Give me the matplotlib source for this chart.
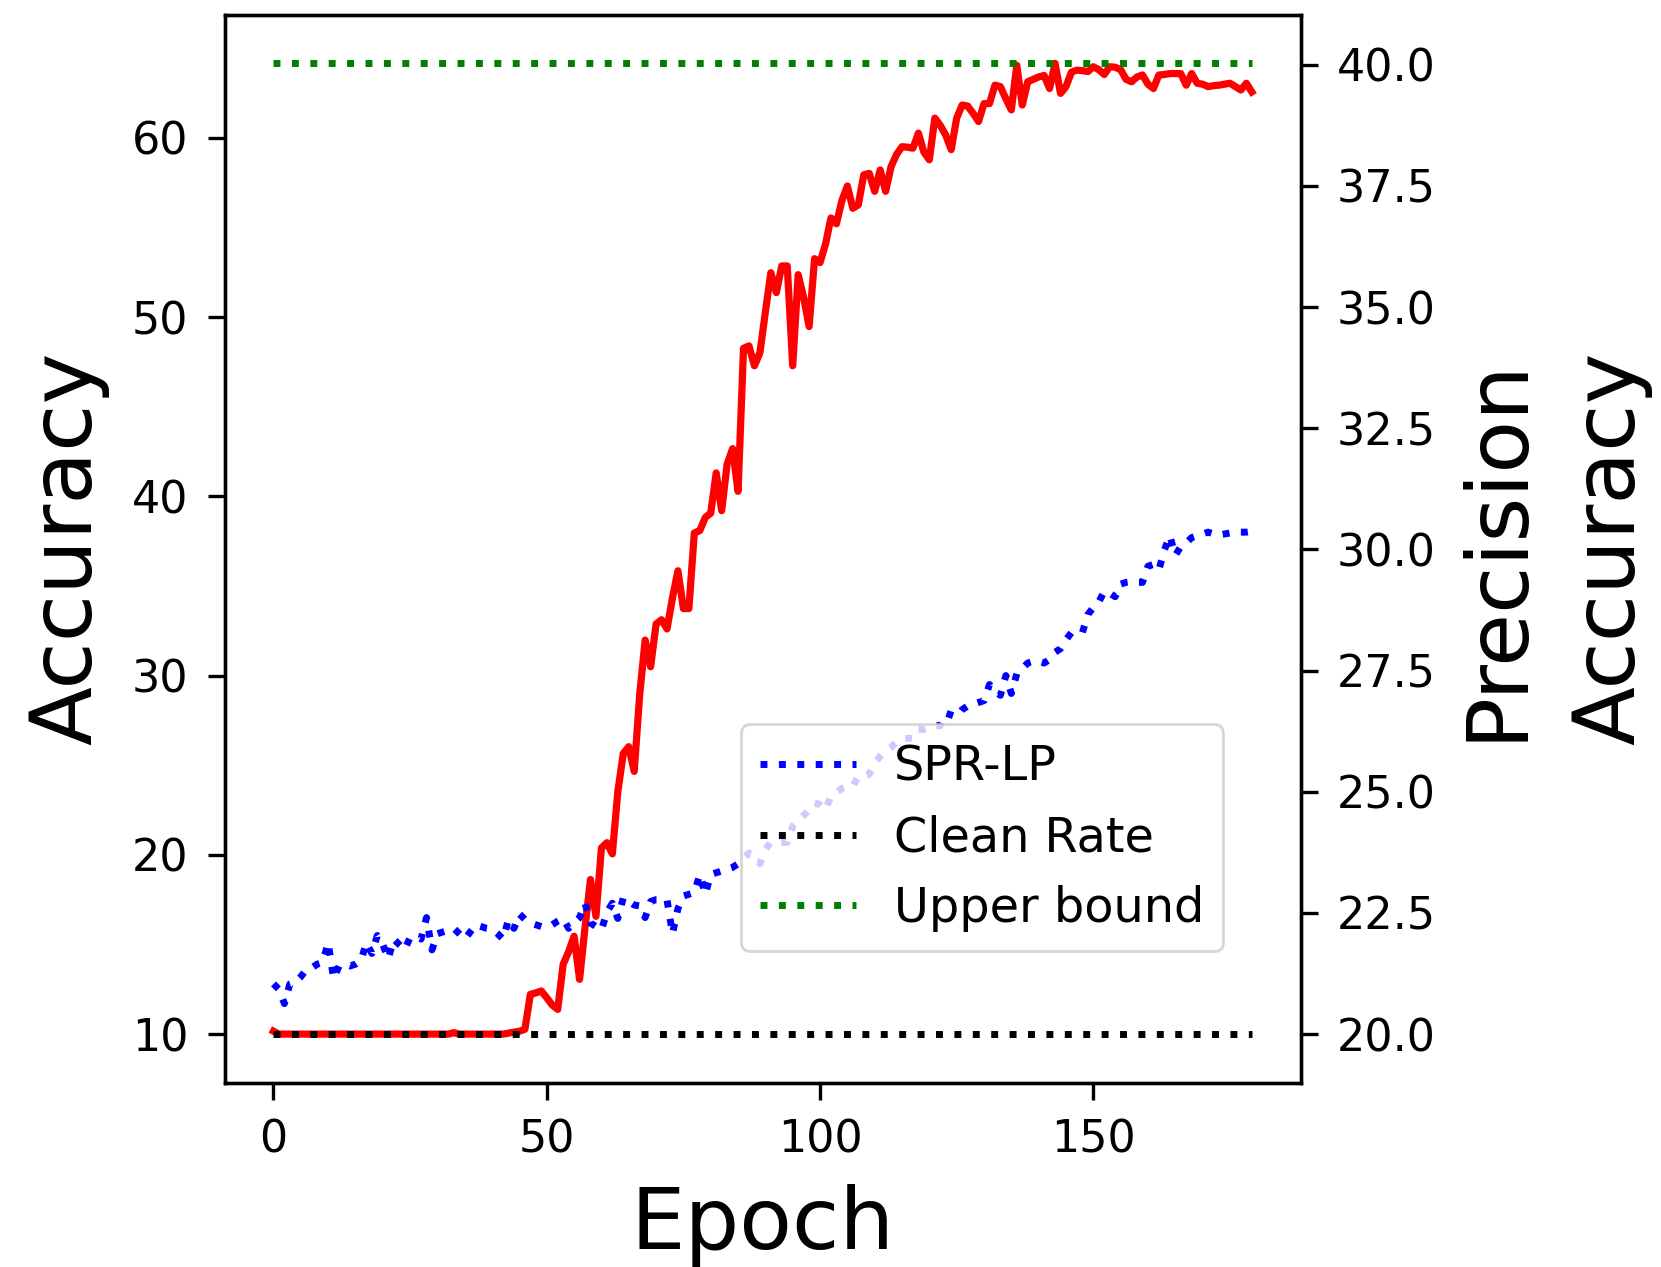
import matplotlib.pyplot as plt
import numpy as np

# data
epochs = np.arange(180)

spr_lp = [12.8, 12.5, 11.7, 12.8, 12.9, 13.2, 13.6, 13.7, 13.9, 14.0,
          15.1, 13.1, 13.8, 13.9, 13.8, 13.9, 14.1, 15.1, 14.5, 15.5,
          15.0, 14.2, 15.3, 15.0, 14.7, 15.4, 15.4, 15.3, 16.5, 14.7,
          15.6, 15.7, 15.8, 15.9, 15.6, 15.3, 15.7, 16.1, 16.0, 15.9,
          15.85, 15.6, 15.3, 16.4, 15.9, 16.7, 16.4, 16.2, 16.1, 16.0,
          16.0, 16.1, 16.3, 16.45, 15.9, 16.2, 16.5, 17.3, 16.2, 16.0,
          15.8, 16.8, 17.3, 16.45, 17.6, 17.4, 17.2, 17.15, 16.5, 17.4,
          17.5, 17.5, 17.5, 15.6, 17.0, 17.7, 17.8, 17.9, 18.9, 17.8,
          18.9, 19.0, 19.1, 19.2, 19.3, 19.5, 19.8, 20.1, 19.9, 19.5,
          20.3, 20.7, 20.7, 20.7, 20.7, 21.6, 21.9, 22.2, 22.5, 22.9,
          22.8, 22.5, 23.3, 23.5, 23.7, 23.8, 23.8, 24.4, 24.4, 24.5,
          25.1, 25.5, 25.8, 26.0, 26.3, 26.5, 26.5, 26.5, 27.0, 27.0,
          27.1, 27.2, 27.2, 27.9, 27.8, 27.7, 28.1, 28.3, 28.4, 28.5,
          28.6, 29.5, 29.1, 28.9, 30.0, 29.0, 30.1, 30.4, 30.7, 30.8,
          30.8, 30.7, 30.9, 31.3, 31.5, 32.0, 32.4, 32.4, 32.4, 33.4,
          33.8, 34.1, 34.7, 34.6, 34.4, 35.1, 35.2, 35.25, 35.2, 35.2,
          36.1, 36.2, 35.9, 37.0, 37.8, 36.7, 37.2, 37.4, 37.7, 37.8,
          37.9, 38.0, 37.9, 37.85, 37.9, 37.95, 37.95, 38.0, 38.0, 38.04]

precision = [20.06, 20.0, 20.0, 20.0, 20.0, 20.0, 20.0, 20.0, 20.0, 20.0,
             20.0, 20.0, 20.0, 20.0, 20.0, 20.0, 20.0, 20.0, 20.0, 20.0,
             20.0, 20.0, 20.0, 20.0, 20.0, 20.0, 20.0, 20.0, 20.0, 20.0,
             20.0, 20.0, 20.0, 20.03, 20.0, 20.0, 20.0, 20.0, 20.0, 20.0,
             20.0, 20.0, 20.0, 20.02, 20.04, 20.06, 20.1, 20.82, 20.85, 20.89,
             20.75, 20.6, 20.51, 21.44, 21.7, 22.02, 21.13, 22.2, 23.19, 22.43,
             23.84, 23.95, 23.72, 25.0, 25.79, 25.93, 25.42, 27.0, 28.13, 27.58,
             28.46, 28.55, 28.36, 29.0, 29.56, 28.78, 28.78, 30.34, 30.39, 30.66,
             30.75, 31.58, 30.8, 31.76, 32.08, 31.2, 34.15, 34.2, 33.79, 34.06,
             34.9, 35.71, 35.3, 35.85, 35.85, 33.79, 35.67, 35.2, 34.6, 36.0,
             35.92, 36.3, 36.84, 36.72, 37.2, 37.5, 37.04, 37.11, 37.73, 37.76,
             37.39, 37.83, 37.39, 37.9, 38.15, 38.31, 38.3, 38.28, 38.59, 38.2,
             38.04, 38.9, 38.75, 38.55, 38.25, 38.9, 39.17, 39.15, 39.0, 38.83,
             39.2, 39.2, 39.58, 39.55, 39.3, 39.07, 39.99, 39.17, 39.65, 39.7,
             39.75, 39.78, 39.51, 40.03, 39.41, 39.55, 39.85, 39.89, 39.88, 39.86,
             39.96, 39.9, 39.8, 39.96, 39.95, 39.9, 39.7, 39.65, 39.75, 39.79,
             39.6, 39.51, 39.79, 39.8, 39.82, 39.82, 39.82, 39.58, 39.82, 39.62,
             39.6, 39.55, 39.57, 39.58, 39.6, 39.62, 39.55, 39.48, 39.62, 39.44]

clean_rate = 10.0
upper_bound = 64.15

fig, ax1 = plt.subplots(figsize=(8.305, 6.335), dpi=200)
plt.subplots_adjust(left=0.1352, right=0.7831, top=0.9883, bottom=0.1455)
ax2 = ax1.twinx()

# red precision curve on the right axis
ax2.plot(epochs, precision, color='red', linewidth=2.6)

# accuracy curves on the left axis
ax1.plot(epochs, spr_lp, color='blue', linestyle=':', linewidth=2.5, label='SPR-LP')
ax1.plot(epochs, [clean_rate] * len(epochs), color='black', linestyle=':', linewidth=2.5,
         label='Clean Rate')
ax1.plot(epochs, [upper_bound] * len(epochs), color='green', linestyle=':', linewidth=2.5,
         label='Upper bound')

# left axis drawn above the twin
ax1.set_zorder(ax2.get_zorder() + 1)
ax1.patch.set_visible(False)

ax1.set_xticks([0, 50, 100, 150])
ax1.set_yticks([10, 20, 30, 40, 50, 60])
ax2.set_yticks([20.0, 22.5, 25.0, 27.5, 30.0, 32.5, 35.0, 37.5, 40.0])
ax2.set_yticklabels([f"{t:.1f}" for t in [20.0, 22.5, 25.0, 27.5, 30.0, 32.5, 35.0, 37.5, 40.0]])

for ax in (ax1, ax2):
    ax.tick_params(labelsize=16, length=6, width=1.2, pad=7)
    for sp in ax.spines.values():
        sp.set_linewidth(1.2)

ax1.set_xlabel('Epoch', fontsize=31, labelpad=8)
ax1.set_ylabel('Accuracy', fontsize=31, labelpad=8)
ax2.set_ylabel('Precision', fontsize=31, labelpad=7)
ax2.text(1.250, 0.5, 'Accuracy', fontsize=31, rotation=90, ha='left', va='center',
         transform=ax2.transAxes)

ax1.legend(loc='lower right', bbox_to_anchor=(0.928, 0.123), borderaxespad=0,
           fontsize=17.2)

plt.savefig('out.png', dpi=200)
